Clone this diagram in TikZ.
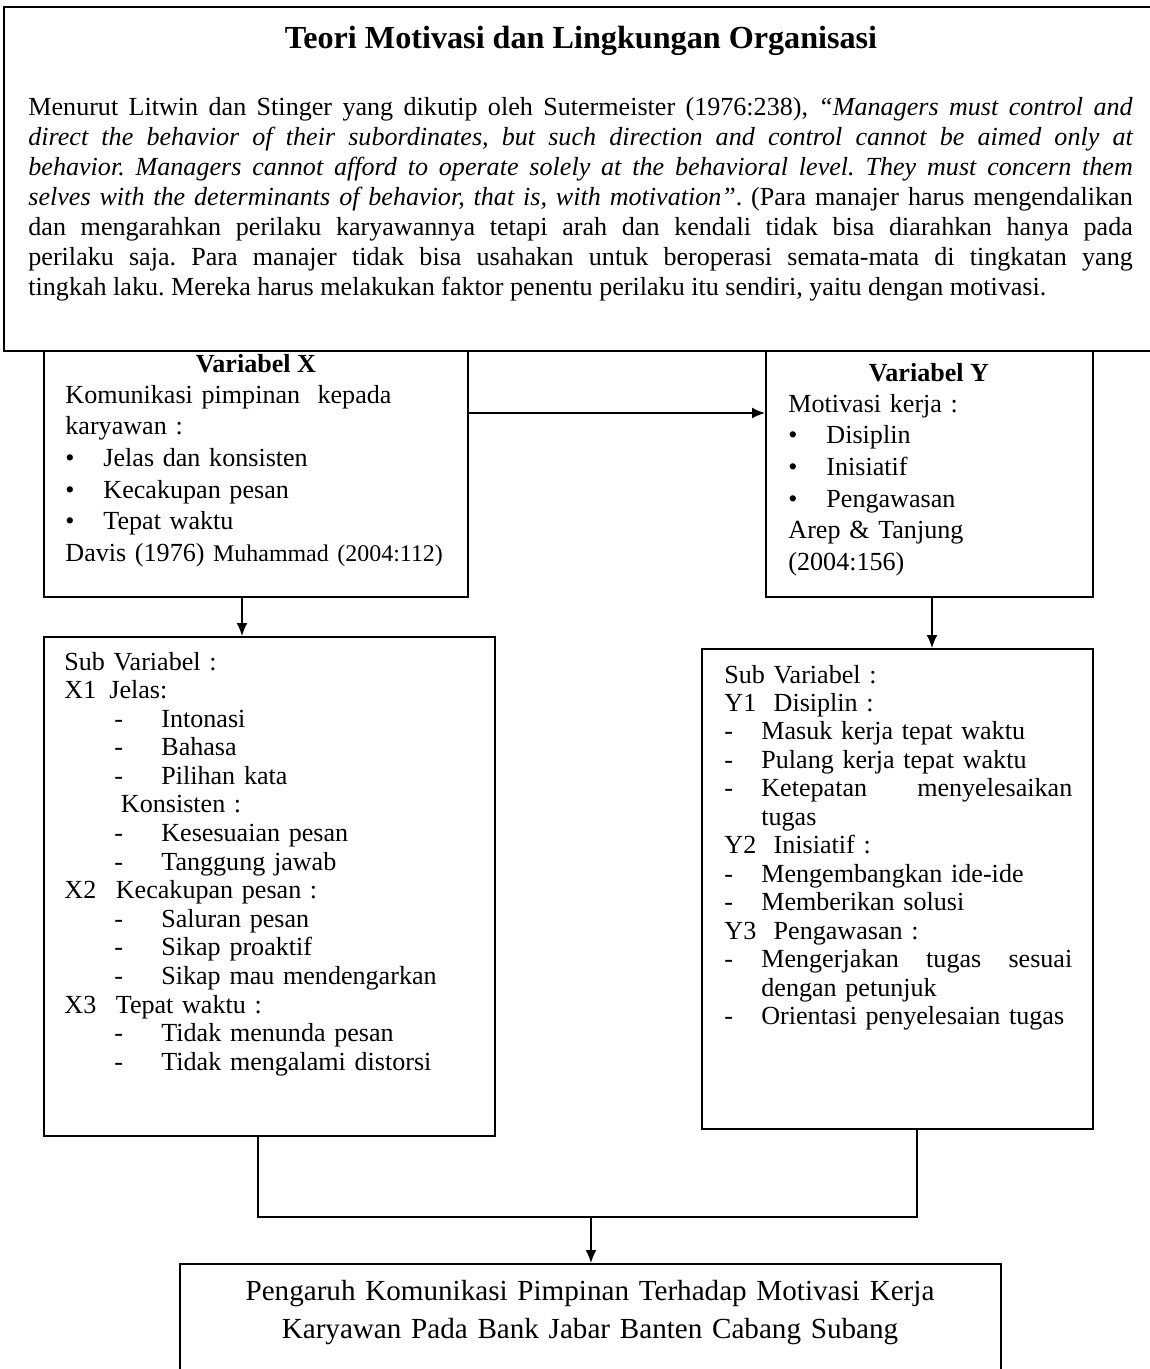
\documentclass[tikz,border=0pt]{standalone}
\usepackage{fontspec}
\setmainfont{Liberation Serif}
\usepackage{tikz}
\usetikzlibrary{arrows.meta,fit}
\tikzset{
  >={Latex[length=6pt,width=5pt]},
  x=0.46pt, y=-0.46pt,
}
\tikzstyle{box}=[draw,line width=0.8pt,inner sep=0pt]
\tikzstyle{conn}=[line width=0.8pt]
\tikzstyle{txt}=[inner sep=0pt,anchor=base west,text width=200pt,align=left]
\tikzstyle{every node}=[font=\fontsize{12}{14.6}\selectfont]
\newcommand{\bul}[1]{\makebox[17.5pt][l]{\textbullet}#1}
\newcommand{\dashx}[1]{\hspace*{23pt}\makebox[21.6pt][l]{-}#1}
\newcommand{\dashy}[1]{\makebox[17pt][l]{-}#1}
\frenchspacing

\begin{document}
\begin{tikzpicture}
    \useasboundingbox (0,0) rectangle (1150,1369);
    % frames
    \node[box,line width=1pt,fit={(4,7) (1160,351)}] (theory) {};
    \node[box,fit={(44,351) (468,597)}] (varx) {};
    \node[box,fit={(766,351) (1093,597)}] (vary) {};
    \node[box,fit={(44,637) (495,1136)}] (subx) {};
    \node[box,fit={(702,649) (1093,1129)}] (suby) {};
    \node[box,fit={(180,1264) (1001,1390)}] (result) {};
    % texts
    \node[inner sep=0pt,anchor=base,font=\fontsize{14.8}{18}\selectfont\bfseries]
      (title) at (581,48) {Teori Motivasi dan Lingkungan Organisasi};
    \node[txt,text width=508pt,align=justify,font=\fontsize{12}{13.8}\selectfont]
      (quote) at (28,115) {Menurut Litwin dan Stinger yang dikutip oleh Sutermeister
      (1976:238), \textit{``Managers must control and\linebreak direct the behavior
      of their subordinates, but such direction and control cannot be aimed only
      at\linebreak behavior. Managers cannot afford to operate solely at the
      behavioral level. They must concern them\linebreak selves with the
      determinants of behavior, that is, with motivation''}. (Para manajer harus
      mengendalikan\linebreak dan mengarahkan perilaku karyawannya tetapi arah dan
      kendali tidak bisa diarahkan hanya pada\linebreak perilaku saja. Para manajer
      tidak bisa usahakan untuk beroperasi semata-mata di tingkatan yang\linebreak
      tingkah laku. Mereka harus melakukan faktor penentu perilaku itu sendiri,
      yaitu dengan motivasi.};
    \node[inner sep=0pt,anchor=base,font=\fontsize{12}{14.6}\selectfont\bfseries]
      (xhead) at (256,372) {Variabel X};
    \node[txt] (xtext) at (65,403) {Komunikasi pimpinan \ kepada\\
      karyawan :\\
      \bul{Jelas dan konsisten}\\
      \bul{Kecakupan pesan}\\
      \bul{Tepat waktu}\\
      Davis (1976) {\fontsize{11}{14.6}\selectfont Muhammad (2004:112)}};
    \node[inner sep=0pt,anchor=base,font=\fontsize{12}{14.6}\selectfont\bfseries]
      (yhead) at (929,381) {Variabel Y};
    \node[txt] (ytext) at (788,412) {Motivasi kerja :\\
      \bul{Disiplin}\\
      \bul{Inisiatif}\\
      \bul{Pengawasan}\\
      Arep \& Tanjung\\
      (2004:156)};
    \node[txt,font=\fontsize{12}{13.15}\selectfont] (xsub) at (64,670) {Sub Variabel :\\
      X1\hspace{6pt}Jelas:\\
      \dashx{Intonasi}\\
      \dashx{Bahasa}\\
      \dashx{Pilihan kata}\\
      \hspace*{26pt}Konsisten :\\
      \dashx{Kesesuaian pesan}\\
      \dashx{Tanggung jawab}\\
      X2\hspace{9pt}Kecakupan pesan :\\
      \dashx{Saluran pesan}\\
      \dashx{Sikap proaktif}\\
      \dashx{Sikap mau mendengarkan}\\
      X3\hspace{9pt}Tepat waktu :\\
      \dashx{Tidak menunda pesan}\\
      \dashx{Tidak mengalami distorsi}};
    \node[txt,font=\fontsize{12}{13.1}\selectfont] (ysub) at (724,683) {Sub Variabel :\\
      Y1\hspace{8pt}Disiplin :\\
      \dashy{Masuk kerja tepat waktu}\\
      \dashy{Pulang kerja tepat waktu}\\
      \dashy{\makebox[143pt][s]{Ketepatan\hfill menyelesaikan}}\\
      \hspace*{17pt}tugas\\
      Y2\hspace{8pt}Inisiatif :\\
      \dashy{Mengembangkan ide-ide}\\
      \dashy{Memberikan solusi}\\
      Y3\hspace{8pt}Pengawasan :\\
      \dashy{\makebox[143pt][s]{Mengerjakan\hfill tugas\hfill sesuai}}\\
      \hspace*{17pt}dengan petunjuk\\
      \dashy{Orientasi penyelesaian tugas}};
    \node[inner sep=0pt,anchor=base,text width=370pt,align=center,
      font=\fontsize{13.4}{17.5}\selectfont]
      (restext) at (590,1300) {Pengaruh Komunikasi Pimpinan Terhadap Motivasi Kerja\\
      Karyawan Pada Bank Jabar Banten Cabang Subang};
    % connectors
    \coordinate (level) at (0,413);
    \coordinate (xdown) at (242,0);
    \coordinate (ydown) at (932,0);
    \coordinate (lx) at (258,0);
    \coordinate (rx) at (917,0);
    \coordinate (hub) at (591,1217);
    \draw[conn,->] (varx.east |- level) -- (vary.west |- level);
    \draw[conn,->] (varx.south -| xdown) -- (subx.north -| xdown);
    \draw[conn,->] (vary.south -| ydown) -- (suby.north -| ydown);
    \draw[conn] (subx.south -| lx) |- (hub) -| (suby.south -| rx);
    \draw[conn,->] (hub) -- (result.north -| hub);
\end{tikzpicture}
\end{document}
